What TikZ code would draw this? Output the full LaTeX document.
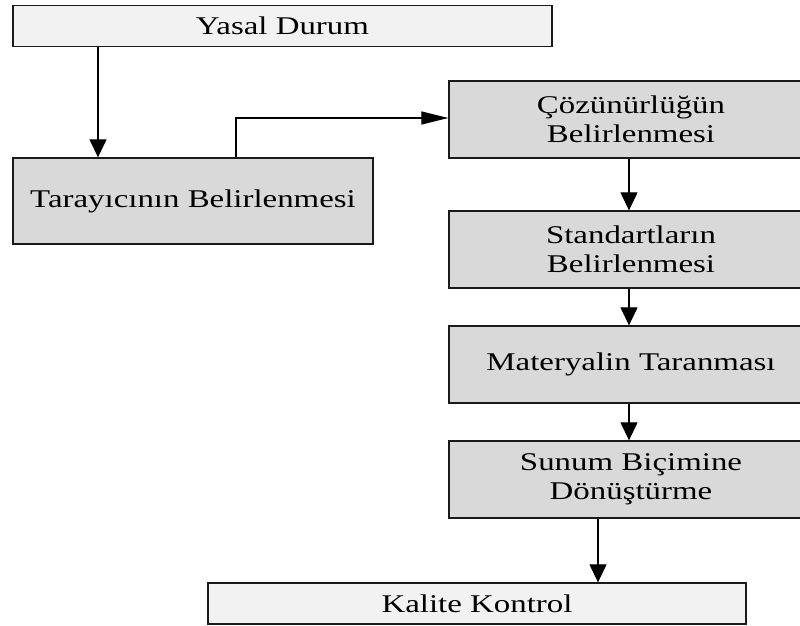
\documentclass[tikz,border=0pt]{standalone}
\usepackage{fontspec}
\setmainfont[FakeStretch=1.29]{Liberation Serif}
\usetikzlibrary{arrows.meta}
\definecolor{lightbox}{HTML}{F2F2F2}
\definecolor{graybox}{HTML}{D9D9D9}
\definecolor{edge}{HTML}{1A1A1A}
\begin{document}
\begin{tikzpicture}[x=1pt,y=-1pt,
  base/.style={draw=edge, line width=1.3pt, inner sep=0pt, align=center,
    font=\fontsize{25.5}{28.5}\selectfont, text=black},
  lightnode/.style={base, fill=lightbox},
  graynode/.style={base, fill=graybox},
  conn/.style={line width=1.2pt, draw=black},
  varrow/.style={conn, -{Triangle[length=18pt,width=17pt]}},
  harrow/.style={conn, -{Triangle[length=27pt,width=13pt]}}]
\clip (0,0) rectangle (800,626);
\fill[white] (0,0) rectangle (800,626);

\node[lightnode, minimum width=539pt, minimum height=41pt] (yasal) at (282.5,26) {Yasal Durum};
\node[graynode, minimum width=360pt, minimum height=86pt] (tara) at (193,201) {Tarayıcının Belirlenmesi};
\node[graynode, minimum width=364pt, minimum height=77pt] (coz) at (631,119.5) {Çözünürlüğün\\Belirlenmesi};
\node[graynode, minimum width=364pt, minimum height=77pt] (std) at (631,249.5) {Standartların\\Belirlenmesi};
\node[graynode, minimum width=364pt, minimum height=77pt] (mat) at (631,364.5) {Materyalin Taranması};
\node[graynode, minimum width=364pt, minimum height=77pt] (sun) at (631,479.5) {Sunum Biçimine\\Dönüştürme};
\node[lightnode, minimum width=538pt, minimum height=41pt] (kal) at (477,603.5) {Kalite Kontrol};

\coordinate (xa) at (98,0);
\coordinate (xb) at (236,0);
\coordinate (xc) at (629,0);
\coordinate (xd) at (598,0);
\coordinate (ya) at (0,118);

\draw[varrow] (yasal.south -| xa) -- (tara.north -| xa);
\draw[harrow] (tara.north -| xb) |- (coz.west |- ya);
\draw[varrow] (coz.south -| xc) -- (std.north -| xc);
\draw[varrow] (std.south -| xc) -- (mat.north -| xc);
\draw[varrow] (mat.south -| xc) -- (sun.north -| xc);
\draw[varrow] (sun.south -| xd) -- (kal.north -| xd);
\end{tikzpicture}
\end{document}
